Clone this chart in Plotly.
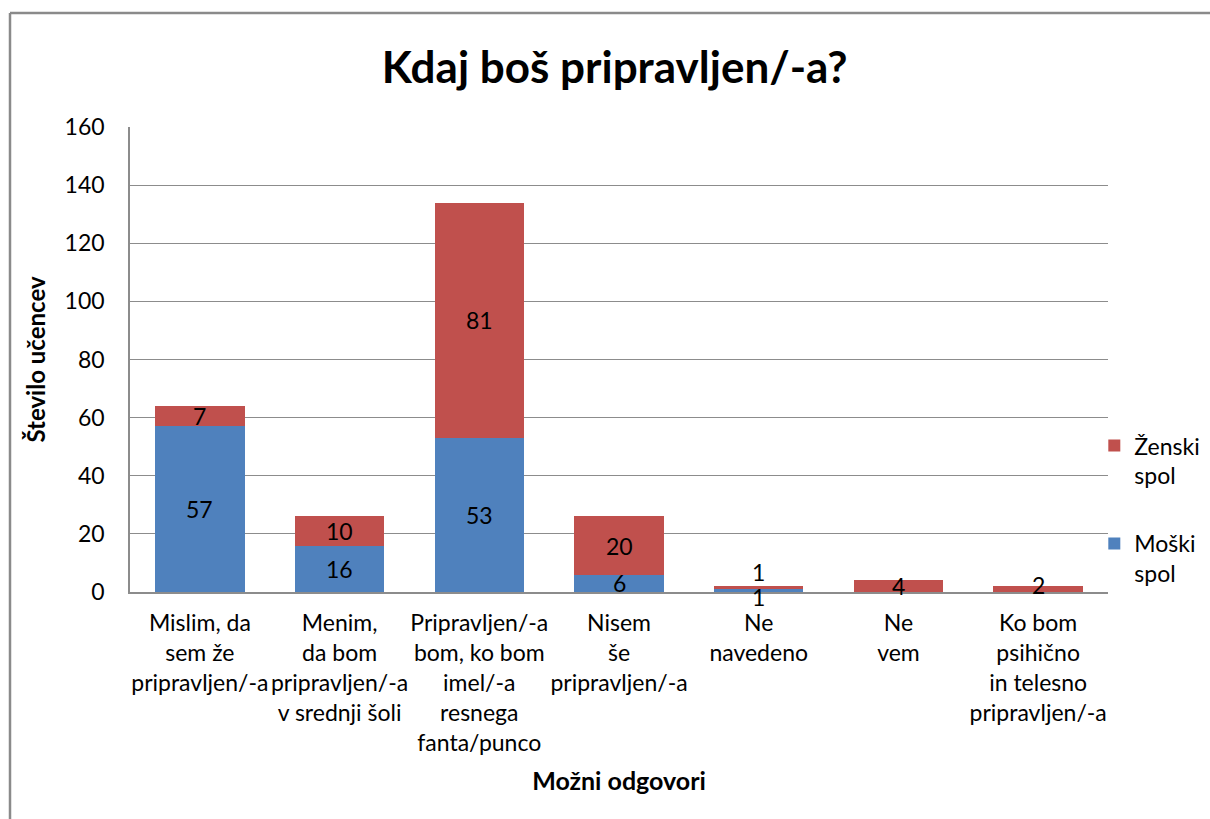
import plotly.graph_objects as go

categories = [
    "Mislim, da<br>sem že<br>pripravljen/-a",
    "Menim,<br>da bom<br>pripravljen/-a<br>v srednji šoli",
    "Pripravljen/-a<br>bom, ko bom<br>imel/-a<br>resnega<br>fanta/punco",
    "Nisem<br>še<br>pripravljen/-a",
    "Ne<br>navedeno",
    "Ne<br>vem",
    "Ko bom<br>psihično<br>in telesno<br>pripravljen/-a",
]
moski = [57, 16, 53, 6, 1, 0, 0]
zenski = [7, 10, 81, 20, 1, 4, 2]
y_ticks = [0, 20, 40, 60, 80, 100, 120, 140, 160]

BLUE = "#4F81BD"
RED = "#C0504D"
FONT = "Lato"
GRID = "#8c8c8c"

fig = go.Figure()
fig.add_trace(go.Bar(x=categories, y=moski, name="Moški<br>spol", marker_color=BLUE,
                     marker_line_width=0, legendgroup="m", legendrank=2))
fig.add_trace(go.Bar(x=categories, y=zenski, name="Ženski<br>spol", marker_color=RED,
                     marker_line_width=0, legendgroup="z", legendrank=1))

# data labels centred in segments (as Excel does), with collision offsets for tiny bars
annotations = []
for i, cat in enumerate(categories):
    tiny = moski[i] > 0 and zenski[i] > 0 and (moski[i] + zenski[i]) < 4
    if moski[i] > 0:
        annotations.append(dict(x=cat, y=moski[i] / 2, text=str(moski[i]), showarrow=False,
                                yshift=-6 if tiny else 0,
                                font=dict(family=FONT, size=23, color="black")))
    if zenski[i] > 0:
        annotations.append(dict(x=cat, y=moski[i] + zenski[i] / 2, text=str(zenski[i]), showarrow=False,
                                yshift=16 if tiny else (4 if zenski[i] < 4 else 0),
                                font=dict(family=FONT, size=23, color="black")))

fig.update_layout(
    width=1210, height=819,
    barmode="stack", bargap=0.36,
    plot_bgcolor="white", paper_bgcolor="white",
    margin=dict(l=130, r=102, t=127, b=227, autoexpand=False),
    font=dict(family=FONT, size=23, color="black"),
    title=dict(text="<b>Kdaj boš pripravljen/-a?</b>", x=0.508, xanchor="center",
               y=0.917, yanchor="middle", font=dict(family=FONT, size=44, color="black")),
    xaxis=dict(showline=True, linecolor=GRID, linewidth=1.5, ticks="", showgrid=False,
               tickfont=dict(family=FONT, size=23, color="black"), ticklabelstandoff=10,
               title=dict(text="<b>Možni odgovori</b>", font=dict(family=FONT, size=25),
                          standoff=18)),
    yaxis=dict(range=[0, 160], tickvals=y_ticks, showline=True, linecolor=GRID, linewidth=1.5,
               showgrid=True, gridcolor=GRID, gridwidth=1, zeroline=False, ticks="",
               tickfont=dict(family=FONT, size=23, color="black"), ticklabelstandoff=19,
               title=dict(text="<b>Število učencev</b>", font=dict(family=FONT, size=24),
                          standoff=12)),
    legend=dict(x=0.986, y=0.361, xanchor="left", yanchor="top", traceorder="grouped",
                tracegroupgap=35, font=dict(family=FONT, size=23, color="black"),
                itemwidth=30, valign="top", bgcolor="rgba(0,0,0,0)"),
    showlegend=True,
    annotations=annotations,
    shapes=[
        dict(type="line", xref="paper", yref="paper",
             x0=(10 - 130) / 978, x1=(10 - 130) / 978, y0=(592 - 13) / 465, y1=(592 - 830) / 465,
             line=dict(color="#8a8a8a", width=2.5)),
        dict(type="line", xref="paper", yref="paper",
             x0=(10 - 130) / 978, x1=(1230 - 130) / 978, y0=(592 - 13) / 465, y1=(592 - 13) / 465,
             line=dict(color="#8a8a8a", width=2.5)),
    ],
)

fig.write_html("out.html", config={"displayModeBar": False},
               post_script="document.body.style.margin='0';document.body.style.overflow='hidden';")
